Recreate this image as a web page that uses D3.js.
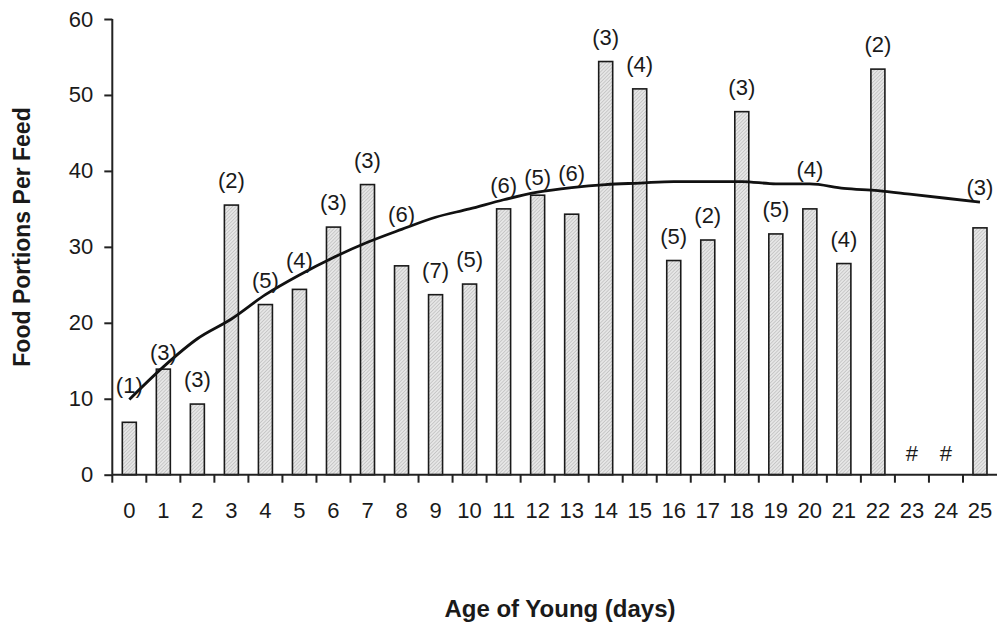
<!DOCTYPE html>
<html>
<head>
<meta charset="utf-8">
<script src="https://cdn.jsdelivr.net/npm/d3@7"></script>
<style>
  body { margin: 0; background: #fff; }
  text { font-family: "Liberation Sans", Arial, sans-serif; fill: #1a1a1a; }
</style>
</head>
<body>
<div id="chart"></div>
<script>
// days of age on the x axis
var days = ["0","1","2","3","4","5","6","7","8","9","10","11","12","13","14","15","16","17","18","19","20","21","22","23","24","25"];
// mean food portions per feed (no data for days 23 and 24)
var portions = [6.9, 13.9, 9.3, 35.5, 22.4, 24.4, 32.6, 38.2, 27.5, 23.7, 25.1, 35.0, 36.8, 34.3, 54.4, 50.8, 28.2, 30.9, 47.8, 31.7, 35.0, 27.8, 53.4, null, null, 32.5];
// sample sizes printed over the bars
var sampleLabels = ["(1)","(3)","(3)","(2)","(5)","(4)","(3)","(3)","(6)","(7)","(5)","(6)","(5)","(6)","(3)","(4)","(5)","(2)","(3)","(5)","(4)","(4)","(2)","#","#","(3)"];
// fitted trend line
var trend = [9.9, 14.2, 17.9, 20.5, 23.7, 26.3, 28.6, 30.6, 32.3, 33.9, 35.0, 36.2, 37.2, 37.8, 38.2, 38.4, 38.6, 38.6, 38.6, 38.3, 38.3, 37.7, 37.4, 36.9, 36.4, 35.9];
var yTicks = [0, 10, 20, 30, 40, 50, 60];

var W = 997, H = 627;
var svg = d3.select("#chart").append("svg").attr("width", W).attr("height", H);

var x = d3.scaleBand().domain(days).range([112.3, 997]).padding(0);
var y = d3.scaleLinear().domain([0, 60]).range([474.7, 19]);
var barW = 14;

// light grey hatching for the bars
var pat = svg.append("defs").append("pattern")
    .attr("id", "hatch")
    .attr("patternUnits", "userSpaceOnUse")
    .attr("width", 2.5).attr("height", 2.5)
    .attr("patternTransform", "rotate(45)");
pat.append("rect").attr("width", 2.5).attr("height", 2.5).attr("fill", "#e6e6e6");
pat.append("line").attr("x1", 0).attr("y1", 0).attr("x2", 0).attr("y2", 2.5)
    .attr("stroke", "#a8a8a8").attr("stroke-width", 0.9);

var bars = days.map(function(d, i) { return {day: d, v: portions[i], lab: sampleLabels[i], t: trend[i]}; });

svg.selectAll("rect.bar")
  .data(bars.filter(function(d) { return d.v != null; }))
  .enter().append("rect")
    .attr("class", "bar")
    .attr("x", function(d) { return x(d.day) + (x.bandwidth() - barW) / 2; })
    .attr("y", function(d) { return y(d.v); })
    .attr("width", barW)
    .attr("height", function(d) { return y(0) - y(d.v); })
    .attr("fill", "url(#hatch)")
    .attr("stroke", "#1a1a1a")
    .attr("stroke-width", 1.6);

// trend curve
var line = d3.line()
    .x(function(d) { return x(d.day) + x.bandwidth() / 2; })
    .y(function(d) { return y(d.t); })
    .curve(d3.curveMonotoneX);
svg.append("path")
    .datum(bars)
    .attr("d", line)
    .attr("fill", "none")
    .attr("stroke", "#111")
    .attr("stroke-width", 2.8);

// sample size labels: above the bar, or above the curve when the bar sits just below it
svg.selectAll("text.n")
  .data(bars)
  .enter().append("text")
    .attr("class", "n")
    .attr("x", function(d) { return x(d.day) + x.bandwidth() / 2; })
    .attr("y", function(d) {
      if (d.v == null) return y(0) - 14;
      var top = y(d.v), c = y(d.t);
      if (top > c && top - c < 45) return c - 7;
      return top - 17;
    })
    .attr("text-anchor", "middle")
    .style("font-size", "22px")
    .text(function(d) { return d.lab; });

// y axis
var yAxis = d3.axisLeft(y).tickValues(yTicks).tickSize(8).tickPadding(11);
var gy = svg.append("g").attr("transform", "translate(112.3,0)").call(yAxis);
gy.select(".domain").attr("stroke", "#222").attr("stroke-width", 2).attr("d", "M0," + y(60) + "V" + y(0));
gy.selectAll(".tick line").attr("stroke", "#222").attr("stroke-width", 2);
gy.selectAll(".tick text").style("font-size", "22px").attr("fill", "#1a1a1a")
    .style("font-family", "'Liberation Sans', Arial, sans-serif");

// x axis, ticks sit between the days
var gx = svg.append("g").attr("transform", "translate(0," + y(0) + ")");
gx.append("line").attr("x1", 112.3).attr("x2", 997).attr("stroke", "#222").attr("stroke-width", 2);
gx.selectAll("line.tk")
  .data(days)
  .enter().append("line")
    .attr("class", "tk")
    .attr("x1", function(d) { return x(d); }).attr("x2", function(d) { return x(d); })
    .attr("y1", 0).attr("y2", 8)
    .attr("stroke", "#222").attr("stroke-width", 2);
gx.selectAll("text")
  .data(days)
  .enter().append("text")
    .attr("x", function(d) { return x(d) + x.bandwidth() / 2; })
    .attr("y", 43.3)
    .attr("text-anchor", "middle")
    .style("font-size", "22px")
    .text(function(d) { return d; });

// axis titles
svg.append("text")
    .attr("x", 560).attr("y", 617)
    .attr("text-anchor", "middle")
    .style("font-size", "24px").style("font-weight", "bold")
    .text("Age of Young (days)");
svg.append("text")
    .attr("transform", "translate(30,237) rotate(-90)")
    .attr("text-anchor", "middle")
    .style("font-size", "23px").style("font-weight", "bold")
    .text("Food Portions Per Feed");
</script>
</body>
</html>
